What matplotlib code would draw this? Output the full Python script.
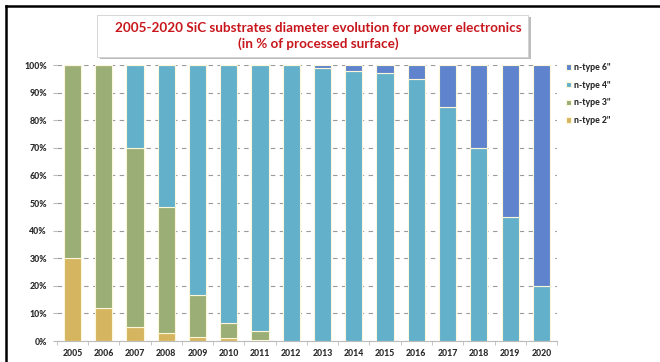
import numpy as np
import matplotlib.pyplot as plt
from matplotlib.patches import Rectangle
from matplotlib.lines import Line2D

years = ["2005", "2006", "2007", "2008", "2009", "2010", "2011", "2012",
         "2013", "2014", "2015", "2016", "2017", "2018", "2019", "2020"]
n2 = [30, 12, 5, 3, 1.5, 1, 0.5, 0, 0, 0, 0, 0, 0, 0, 0, 0]
n3 = [70, 88, 65, 45.5, 15, 5.5, 3, 0, 0, 0, 0, 0, 0, 0, 0, 0]
n4 = [0, 0, 30, 51.5, 83.5, 93.5, 96.5, 100, 99, 98, 97, 95, 85, 70, 45, 20]
n6 = [0, 0, 0, 0, 0, 0, 0, 0, 1, 2, 3, 5, 15, 30, 55, 80]

series = [("n-type 2\"", n2, "#d5b560"),
          ("n-type 3\"", n3, "#9aae76"),
          ("n-type 4\"", n4, "#63b0cb"),
          ("n-type 6\"", n6, "#5f84cd")]

plt.rcParams["font.family"] = ["Lato", "DejaVu Sans"]

fig = plt.figure(figsize=(6.6, 3.62), dpi=100)
ax = fig.add_axes([0.086, 0.058, 0.758, 0.762])

x = np.arange(len(years))
bottom = np.zeros(len(years))
handles = []
for name, vals, col in series:
    vals = np.array(vals, dtype=float)
    b = ax.bar(x, vals, 0.55, bottom=bottom, color=col, edgecolor="#fdf6d8",
               linewidth=0.8, label=name, zorder=3)
    handles.append(b)
    bottom += vals

ax.set_xlim(-0.5, len(years) - 0.5)
ax.set_ylim(0, 100)
ax.set_yticks(np.arange(0, 101, 10))
ax.set_yticklabels([f"{v}%" for v in range(0, 101, 10)])
ax.set_xticks(x)
ax.set_xticklabels(years)
ax.set_xticks(np.arange(-0.5, len(years)), minor=True)
ax.tick_params(axis="x", which="major", length=0, pad=6)
ax.tick_params(axis="x", which="minor", length=3, color="#bbbbbb")
ax.tick_params(axis="y", length=3, color="#bbbbbb", pad=4)
for lab in ax.get_xticklabels() + ax.get_yticklabels():
    lab.set_fontsize(6.3)
    lab.set_fontweight(900)
    lab.set_color("#2a2a2a")
ax.grid(axis="y", linestyle=(0, (4, 4)), color="#999999", linewidth=0.8, zorder=0)
for s in ["top", "right", "left"]:
    ax.spines[s].set_visible(False)
ax.spines["bottom"].set_color("#bbbbbb")

leg = fig.legend(handles=handles[::-1], labels=[h.get_label() for h in handles[::-1]],
                 loc="upper left", bbox_to_anchor=(0.845, 0.848), frameon=False,
                 handlelength=0.6, handleheight=0.6, handletextpad=0.4,
                 labelspacing=1.0, prop={"size": 6.3, "weight": 900})
for t in leg.get_texts():
    t.set_color("#2a2a2a")

# title box with shadow
fig.add_artist(Rectangle((100 / 660, 1 - 59 / 362), 431 / 660, 42 / 362,
                         transform=fig.transFigure, facecolor="#bdbdbd",
                         edgecolor="none", zorder=4))
fig.add_artist(Rectangle((97 / 660, 1 - 57 / 362), 431 / 660, 42 / 362,
                         transform=fig.transFigure, facecolor="white",
                         edgecolor="#d0d0d0", linewidth=0.6, zorder=5))
fig.text(318 / 660, 1 - 36 / 362,
         "2005-2020 SiC substrates diameter evolution for power electronics\n(in % of processed surface)",
         ha="center", va="center", fontsize=9.7, fontweight="bold", color="#c8161d",
         linespacing=1.3, zorder=6)

# black frame lines top and left
fig.add_artist(Line2D([6 / 660, 6 / 660], [0, 1 - 6 / 362], color="black", linewidth=1.8))
fig.add_artist(Line2D([6 / 660, 1], [1 - 6 / 362, 1 - 6 / 362], color="black", linewidth=1.8))

fig.savefig("out.png", dpi=100, facecolor="white")
